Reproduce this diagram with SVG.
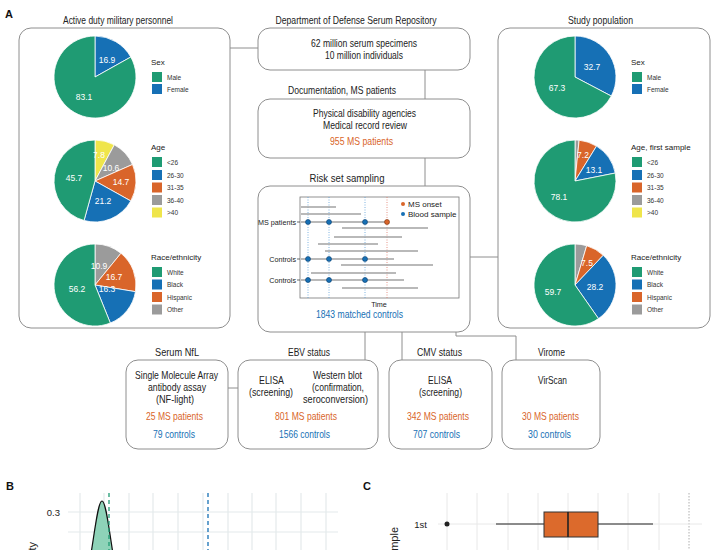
<svg xmlns="http://www.w3.org/2000/svg" width="715" height="550" viewBox="0 0 715 550">
<style>
text{font-family:"Liberation Sans",Arial,Helvetica,sans-serif;fill:#222}
.m{font-size:10.5px;text-anchor:middle}
.L{font-size:11px;font-weight:bold;fill:#111}
.or{fill:#d9652a}
.bu{fill:#1670b5}
.lt{font-size:8px}
.lg{font-size:6.5px;fill:#333}
.pl{font-size:8.5px;fill:#fff;text-anchor:middle}
.box{fill:#fff;stroke:#8e8e8e;stroke-width:1}
.con{fill:none;stroke:#8e8e8e;stroke-width:1}
.pie path{stroke:#fff;stroke-width:0.8}
.g{fill:#1f9b73}.b{fill:#1670b5}.o{fill:#d9652a}.y{fill:#efe54b}.gr{fill:#9b9b9b}
.tl{stroke:#a3a3a3;stroke-width:1.6}
.ax{font-size:7.2px}
.lg8{font-size:8px}
.grid{stroke:#e4e9ec;stroke-width:1.2}
.bd{fill:#1670b5;stroke:#0d3f6e;stroke-width:0.6}
.od{fill:#d9652a;stroke:#7a3210;stroke-width:0.6}
</style>

<text class="L" x="5" y="17.5">A</text>

<g id="connectors">
<path class="con" d="M230,48 H258"/>
<path class="con" d="M425,70 V99"/>
<path class="con" d="M425,158 V186"/>
<path class="con" d="M470,257 H498"/>
<path class="con" d="M365,332 V360"/>
<path class="con" d="M402,332 V360"/>
<path class="con" d="M456,332 V336 H516 V360"/>
<path class="con" d="M228,388 H238"/>
</g>

<g id="panel-active-duty">
<text class="m" x="118" y="24" textLength="110" lengthAdjust="spacingAndGlyphs">Active duty military personnel</text>
<rect class="box" x="19" y="28" width="211" height="300" rx="12"/>
<g id="pie-ad-sex" class="pie">
<path class="b" d="M95,77 L95,36 A41,41 0 0 1 130.79,57 Z"/>
<path class="g" d="M95,77 L130.79,57 A41,41 0 1 1 95,36 Z"/>
<text class="pl" x="107" y="63">16.9</text>
<text class="pl" x="84" y="100">83.1</text>
<text class="lt" x="151" y="65">Sex</text>
<rect class="g" x="152" y="72" width="10" height="10"/>
<rect class="b" x="152" y="84" width="10" height="10"/>
<text class="lg" x="167" y="79.5">Male</text>
<text class="lg" x="167" y="91.5">Female</text>
</g>
<g id="pie-ad-age" class="pie">
<path class="y" d="M95,181 L95,140 A41,41 0 0 1 114.3,144.83 Z"/>
<path class="gr" d="M95,181 L114.3,144.83 A41,41 0 0 1 132.53,164.48 Z"/>
<path class="o" d="M95,181 L132.53,164.48 A41,41 0 0 1 130.81,200.98 Z"/>
<path class="b" d="M95,181 L130.81,200.98 A41,41 0 0 1 84.06,220.51 Z"/>
<path class="g" d="M95,181 L84.06,220.51 A41,41 0 0 1 95,140 Z"/>
<text class="pl" x="99" y="158">7.8</text>
<text class="pl" x="111" y="171">10.6</text>
<text class="pl" x="121" y="185">14.7</text>
<text class="pl" x="103" y="204">21.2</text>
<text class="pl" x="74" y="181">45.7</text>
<text class="lt" x="151" y="150">Age</text>
<rect class="g" x="152" y="157" width="10" height="10"/>
<rect class="b" x="152" y="170" width="10" height="10"/>
<rect class="o" x="152" y="182.5" width="10" height="10"/>
<rect class="gr" x="152" y="195" width="10" height="10"/>
<rect class="y" x="152" y="207.5" width="10" height="10"/>
<text class="lg" x="167" y="164.5">&lt;26</text>
<text class="lg" x="167" y="177.5">26-30</text>
<text class="lg" x="167" y="190">31-35</text>
<text class="lg" x="167" y="202.5">36-40</text>
<text class="lg" x="167" y="215">&gt;40</text>
</g>
<g id="pie-ad-race" class="pie">
<path class="gr" d="M95,285 L95,244 A41,41 0 0 1 120.94,253.25 Z"/>
<path class="o" d="M95,285 L120.94,253.25 A41,41 0 0 1 135.45,291.67 Z"/>
<path class="b" d="M95,285 L135.45,291.67 A41,41 0 0 1 110.33,323.03 Z"/>
<path class="g" d="M95,285 L110.33,323.03 A41,41 0 1 1 95,244 Z"/>
<text class="pl" x="99" y="269">10.9</text>
<text class="pl" x="114" y="280">16.7</text>
<text class="pl" x="107" y="292">16.3</text>
<text class="pl" x="77" y="292">56.2</text>
<text class="lt" x="151" y="260">Race/ethnicity</text>
<rect class="g" x="152" y="267" width="10" height="10"/>
<rect class="b" x="152" y="279.5" width="10" height="10"/>
<rect class="o" x="152" y="292" width="10" height="10"/>
<rect class="gr" x="152" y="304.5" width="10" height="10"/>
<text class="lg" x="167" y="274.5">White</text>
<text class="lg" x="167" y="287">Black</text>
<text class="lg" x="167" y="299.5">Hispanic</text>
<text class="lg" x="167" y="312">Other</text>
</g>
</g>

<g id="node-dod">
<text class="m" x="356" y="24" textLength="161" lengthAdjust="spacingAndGlyphs">Department of Defense Serum Repository</text>
<rect class="box" x="258" y="28" width="212" height="42" rx="12"/>
<text class="m" x="364" y="47" textLength="106" lengthAdjust="spacingAndGlyphs">62 million serum specimens</text>
<text class="m" x="364" y="59" textLength="78" lengthAdjust="spacingAndGlyphs">10 million individuals</text>
</g>

<g id="node-documentation">
<text class="m" x="342" y="94" textLength="108" lengthAdjust="spacingAndGlyphs">Documentation, MS patients</text>
<rect class="box" x="258" y="99" width="212" height="59" rx="12"/>
<text class="m" x="364.5" y="117" textLength="103" lengthAdjust="spacingAndGlyphs">Physical disability agencies</text>
<text class="m" x="365" y="129" textLength="84" lengthAdjust="spacingAndGlyphs">Medical record review</text>
<text class="m or" x="361.5" y="145" textLength="63" lengthAdjust="spacingAndGlyphs">955 MS patients</text>
</g>

<g id="node-risk-set">
<text class="m" x="347" y="182" textLength="75" lengthAdjust="spacingAndGlyphs">Risk set sampling</text>
<rect class="box" x="258" y="186" width="212" height="146" rx="12"/>
<rect x="300" y="197" width="159" height="101" fill="#fff" stroke="#777" stroke-width="0.8"/>
<g stroke-width="0.8" stroke-dasharray="1,1.5">
<path d="M308,197 V298 M329,197 V298 M365,197 V298" stroke="#5b9fd8"/>
<path d="M387,197 V298" stroke="#e07a68"/>
</g>
<g class="tl">
<path d="M301,207 H336 M301,214 H361 M301,222 H387 M342,228 H428 M334,237 H402 M318,244 H378 M325,251 H418 M301,259 H394 M341,265 H433 M311,273 H396 M301,280 H404 M342,288 H418"/>
</g>
<path d="M297,222 H300 M297,259 H300 M297,280 H300" stroke="#444" stroke-width="0.8"/>
<circle class="bd" cx="308" cy="222" r="2.5"/><circle class="bd" cx="329" cy="222" r="2.5"/><circle class="bd" cx="365" cy="222" r="2.5"/><circle class="od" cx="387" cy="222" r="2.5"/>
<circle class="bd" cx="308" cy="259" r="2.5"/><circle class="bd" cx="329" cy="259" r="2.5"/><circle class="bd" cx="365" cy="259" r="2.5"/>
<circle class="bd" cx="308" cy="280" r="2.5"/><circle class="bd" cx="329" cy="280" r="2.5"/><circle class="bd" cx="365" cy="280" r="2.5"/>
<text class="ax" x="296" y="224.5" text-anchor="end">MS patients</text>
<text class="ax" x="296" y="261.5" text-anchor="end">Controls</text>
<text class="ax" x="296" y="282.5" text-anchor="end">Controls</text>
<circle cx="403" cy="204" r="2" fill="#d9652a"/>
<circle cx="403" cy="214" r="2" fill="#1670b5"/>
<text class="lg8" x="408" y="207">MS onset</text>
<text class="lg8" x="408" y="217">Blood sample</text>
<text class="ax" x="379" y="307" text-anchor="middle">Time</text>
<text class="m bu" x="359.5" y="318" textLength="87" lengthAdjust="spacingAndGlyphs">1843 matched controls</text>
</g>

<g id="panel-study-population">
<text class="m" x="600.5" y="24" textLength="65" lengthAdjust="spacingAndGlyphs">Study population</text>
<rect class="box" x="498" y="28" width="212" height="300" rx="12"/>
<g id="pie-sp-sex" class="pie">
<path class="b" d="M575,77 L575,36 A41,41 0 0 1 611.29,96.07 Z"/>
<path class="g" d="M575,77 L611.29,96.07 A41,41 0 1 1 575,36 Z"/>
<text class="pl" x="592" y="70">32.7</text>
<text class="pl" x="557" y="91">67.3</text>
<text class="lt" x="631" y="65">Sex</text>
<rect class="g" x="632" y="72" width="10" height="10"/>
<rect class="b" x="632" y="84" width="10" height="10"/>
<text class="lg" x="647" y="79.5">Male</text>
<text class="lg" x="647" y="91.5">Female</text>
</g>
<g id="pie-sp-age" class="pie">
<path class="gr" d="M575,181 L575,140 A41,41 0 0 1 579.11,140.21 Z"/>
<path class="o" d="M575,181 L579.11,140.21 A41,41 0 0 1 596.53,146.11 Z"/>
<path class="b" d="M575,181 L596.53,146.11 A41,41 0 0 1 615.22,173.06 Z"/>
<path class="g" d="M575,181 L615.22,173.06 A41,41 0 1 1 575,140 Z"/>
<text class="pl" x="583" y="158">7.2</text>
<text class="pl" x="594" y="173">13.1</text>
<text class="pl" x="559" y="200">78.1</text>
<text class="lt" x="631" y="150">Age, first sample</text>
<rect class="g" x="632" y="157" width="10" height="10"/>
<rect class="b" x="632" y="170" width="10" height="10"/>
<rect class="o" x="632" y="182.5" width="10" height="10"/>
<rect class="gr" x="632" y="195" width="10" height="10"/>
<rect class="y" x="632" y="207.5" width="10" height="10"/>
<text class="lg" x="647" y="164.5">&lt;26</text>
<text class="lg" x="647" y="177.5">26-30</text>
<text class="lg" x="647" y="190">31-35</text>
<text class="lg" x="647" y="202.5">36-40</text>
<text class="lg" x="647" y="215">&gt;40</text>
</g>
<g id="pie-sp-race" class="pie">
<path class="gr" d="M575,285 L575,244 A41,41 0 0 1 586.69,245.7 Z"/>
<path class="o" d="M575,285 L586.69,245.7 A41,41 0 0 1 603.26,255.3 Z"/>
<path class="b" d="M575,285 L603.26,255.3 A41,41 0 0 1 598.47,318.62 Z"/>
<path class="g" d="M575,285 L598.47,318.62 A41,41 0 1 1 575,244 Z"/>
<text class="pl" x="587" y="266">7.5</text>
<text class="pl" x="595" y="290">28.2</text>
<text class="pl" x="553" y="295">59.7</text>
<text class="lt" x="631" y="260">Race/ethnicity</text>
<rect class="g" x="632" y="267" width="10" height="10"/>
<rect class="b" x="632" y="279.5" width="10" height="10"/>
<rect class="o" x="632" y="292" width="10" height="10"/>
<rect class="gr" x="632" y="304.5" width="10" height="10"/>
<text class="lg" x="647" y="274.5">White</text>
<text class="lg" x="647" y="287">Black</text>
<text class="lg" x="647" y="299.5">Hispanic</text>
<text class="lg" x="647" y="312">Other</text>
</g>
</g>

<g id="node-serum-nfl">
<text class="m" x="177" y="356" textLength="44" lengthAdjust="spacingAndGlyphs">Serum NfL</text>
<rect class="box" x="126" y="360" width="102" height="89" rx="12"/>
<text class="m" x="176.5" y="379" textLength="83" lengthAdjust="spacingAndGlyphs">Single Molecule Array</text>
<text class="m" x="177" y="391" textLength="58" lengthAdjust="spacingAndGlyphs">antibody assay</text>
<text class="m" x="175" y="403" textLength="38" lengthAdjust="spacingAndGlyphs">(NF-light)</text>
<text class="m or" x="174.5" y="420" textLength="57" lengthAdjust="spacingAndGlyphs">25 MS patients</text>
<text class="m bu" x="174" y="437.5" textLength="42" lengthAdjust="spacingAndGlyphs">79 controls</text>
</g>

<g id="node-ebv">
<text class="m" x="309" y="356" textLength="42" lengthAdjust="spacingAndGlyphs">EBV status</text>
<rect class="box" x="238" y="360" width="140" height="89" rx="12"/>
<text class="m" x="271.5" y="384" textLength="25" lengthAdjust="spacingAndGlyphs">ELISA</text>
<text class="m" x="271" y="396" textLength="44" lengthAdjust="spacingAndGlyphs">(screening)</text>
<text class="m" x="337.5" y="379" textLength="49" lengthAdjust="spacingAndGlyphs">Western blot</text>
<text class="m" x="338" y="391" textLength="52" lengthAdjust="spacingAndGlyphs">(confirmation,</text>
<text class="m" x="335.5" y="403" textLength="65" lengthAdjust="spacingAndGlyphs">seroconversion)</text>
<text class="m or" x="306" y="420" textLength="62" lengthAdjust="spacingAndGlyphs">801 MS patients</text>
<text class="m bu" x="304.5" y="437.5" textLength="51" lengthAdjust="spacingAndGlyphs">1566 controls</text>
</g>

<g id="node-cmv">
<text class="m" x="439.5" y="356" textLength="45" lengthAdjust="spacingAndGlyphs">CMV status</text>
<rect class="box" x="389" y="360" width="103" height="89" rx="12"/>
<text class="m" x="440" y="384" textLength="24" lengthAdjust="spacingAndGlyphs">ELISA</text>
<text class="m" x="440.5" y="396" textLength="43" lengthAdjust="spacingAndGlyphs">(screening)</text>
<text class="m or" x="438" y="420" textLength="62" lengthAdjust="spacingAndGlyphs">342 MS patients</text>
<text class="m bu" x="436.5" y="437.5" textLength="47" lengthAdjust="spacingAndGlyphs">707 controls</text>
</g>

<g id="node-virome">
<text class="m" x="551.5" y="356" textLength="27" lengthAdjust="spacingAndGlyphs">Virome</text>
<rect class="box" x="502" y="360" width="98" height="89" rx="12"/>
<text class="m" x="552.5" y="384" textLength="29" lengthAdjust="spacingAndGlyphs">VirScan</text>
<text class="m or" x="550.5" y="420" textLength="57" lengthAdjust="spacingAndGlyphs">30 MS patients</text>
<text class="m bu" x="549.5" y="437.5" textLength="43" lengthAdjust="spacingAndGlyphs">30 controls</text>
</g>

<g id="panel-b">
<text class="L" x="6" y="489.5">B</text>
<g class="grid">
<path d="M80,493 V550 M104,493 V550 M129,493 V550 M153,493 V550 M178,493 V550 M203,493 V550 M228,493 V550 M252,493 V550 M276,493 V550 M301,493 V550 M326,493 V550"/>
<path d="M68,512 H338 M68,532 H338"/>
</g>
<path d="M90,560 C95,530 98,501 102,501 C106,501 109,530 114,560 Z" fill="#8ed3b8" stroke="#111" stroke-width="1.2"/>
<path d="M109,493 V550" stroke="#1f9b73" stroke-width="1.3" stroke-dasharray="4,3"/>
<path d="M208,493 V550" stroke="#1670b5" stroke-width="1.3" stroke-dasharray="4,3"/>
<text x="60" y="515.5" font-size="9.5" text-anchor="end" fill="#333">0.3</text>
<text x="60" y="556.5" font-size="9.5" text-anchor="end" fill="#333">0.2</text>
<text transform="translate(36,542) rotate(-90)" font-size="11" text-anchor="end">Density</text>
</g>

<g id="panel-c">
<text class="L" x="363" y="489.5">C</text>
<path d="M447,493 V550 M477,493 V550 M508,493 V550 M538,493 V550 M568,493 V550 M598,493 V550 M628,493 V550 M659,493 V550" stroke="#e8e8e8" stroke-width="1"/>
<path d="M689,493 V550" stroke="#999" stroke-width="0.8" stroke-dasharray="1.5,1.5"/>
<path d="M438,524 H702" stroke="#e8e8e8" stroke-width="1"/>
<path d="M496,524 H653" stroke="#222" stroke-width="1"/>
<rect x="544" y="512" width="54" height="25" fill="#dc6a2c" stroke="#333" stroke-width="1"/>
<path d="M568,512 V537" stroke="#222" stroke-width="1.6"/>
<circle cx="447" cy="524" r="2.5" fill="#222"/>
<text x="427" y="528" font-size="9.5" text-anchor="end" fill="#333">1st</text>
<text transform="translate(398,527) rotate(-90)" font-size="11" text-anchor="end">Sample</text>
</g>
</svg>
